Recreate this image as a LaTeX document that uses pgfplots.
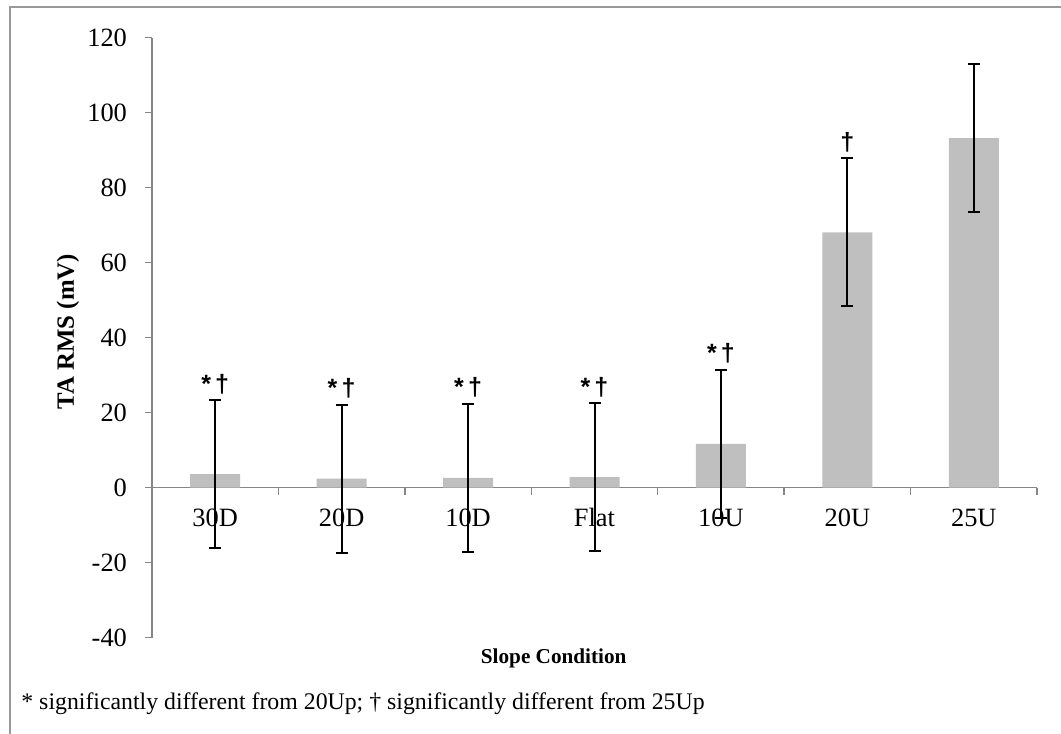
\documentclass[border=0pt]{standalone}
\usepackage{pgfplots}
\pgfplotsset{compat=1.18}
\usepackage{pgfplotstable}
\usepackage{fontspec}
\setmainfont{Liberation Serif}
\newfontfamily\sigfont{Liberation Sans}

\definecolor{bargray}{HTML}{BFBFBF}
\definecolor{axisgray}{HTML}{868686}
\definecolor{framegray}{HTML}{999999}

% Mean tibialis anterior RMS by slope, +/- one SD, with significance marks
\pgfplotstableread{
idx mean err sig
0 3.6 19.7 *\,†
1 2.4 19.7 *\,†
2 2.6 19.7 *\,†
3 2.8 19.7 *\,†
4 11.7 19.7 *\,†
5 68.1 19.7 †
6 93.2 19.7 {}
}\tadata

\begin{document}
\begin{tikzpicture}
\path[use as bounding box] (0pt,0pt) rectangle (530.5pt,367pt);
\draw[framegray, line width=0.75pt] (5pt,0pt) -- (5pt,363.5pt) -- (530.5pt,363.5pt);

\begin{axis}[
  at={(76pt,48.15pt)}, anchor=south west,
  scale only axis, width=442.5pt, height=300pt,
  xmin=-0.5, xmax=6.5, ymin=-40, ymax=120,
  axis y line*=left, axis x line*=middle,
  axis line style={draw=axisgray, line width=0.75pt},
  ytick={-40,-20,...,120},
  yticklabels={-40,-20,0,20,40,60,80,100,120},
  yticklabel style={xshift=-5.5pt},
  xtick={0,...,6},
  xticklabels={30D,20D,10D,Flat,10U,20U,25U},
  xticklabel style={anchor=base, yshift=-16pt},
  minor xtick={-0.5,0.5,...,6.5},
  major x tick style={draw=none},
  tick style={axisgray, line width=0.75pt},
  tick align=outside,
  major tick length=3.5pt, minor tick length=3.5pt,
  ticklabel style={font=\fontsize{13.2}{15}\selectfont},
  ylabel={\textbf{TA RMS (mV)}},
  ylabel style={at={(axis description cs:-0.0949,0.5103)}, anchor=center,
    font=\fontsize{12.4}{14}\selectfont},
  xlabel={\textbf{Slope Condition}},
  xlabel style={at={(axis description cs:0.4539,-0.0338)}, anchor=center,
    font=\fontsize{10.6}{12}\selectfont},
  clip=false,
]
\addplot[ybar, bar width=25pt, fill=bargray, draw=none,
  error bars/.cd, y dir=both, y explicit,
  error bar style={black, line width=1pt},
  error mark options={rotate=90, black, mark size=3pt, line width=1pt}]
  table[x=idx, y=mean, y error=err] {\tadata};
\addplot[draw=none, nodes near coords, point meta=explicit symbolic,
  nodes near coords style={font=\sigfont\bfseries\fontsize{12.5}{14}\selectfont,
    anchor=south, inner sep=0pt, yshift=3pt, text=black}]
  table[x=idx, y expr=\thisrow{mean}+\thisrow{err}, meta=sig] {\tadata};
\end{axis}

\node[anchor=base west, font=\fontsize{11.9}{14}\selectfont, inner sep=0pt]
  at (10.5pt,12pt) {* significantly different from 20Up; † significantly different from 25Up};
\end{tikzpicture}
\end{document}
